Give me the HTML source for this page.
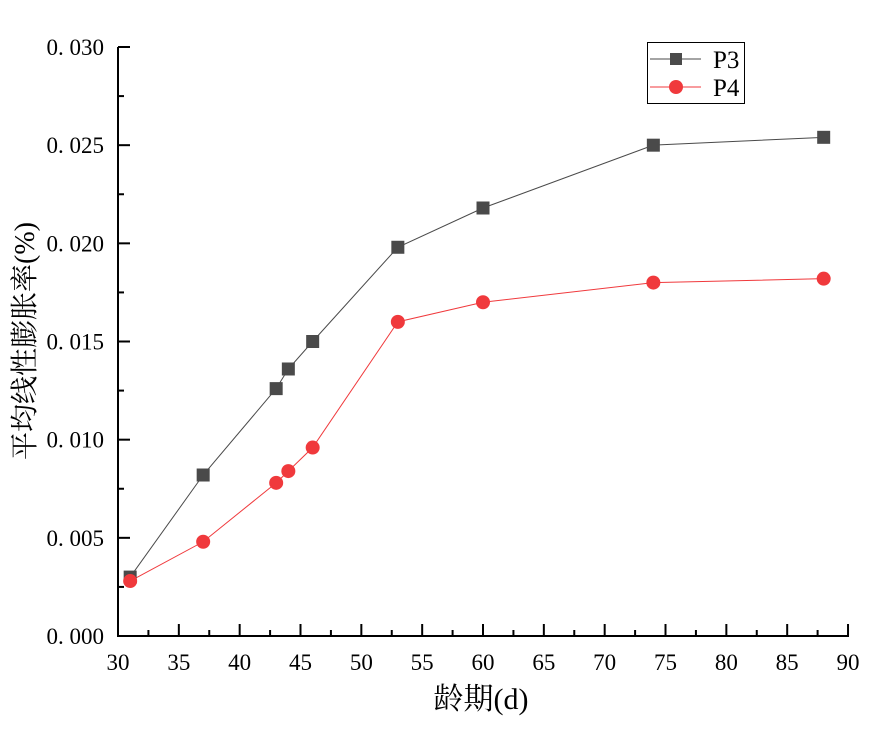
<!DOCTYPE html>
<html><head><meta charset="utf-8"><style>
html,body{margin:0;padding:0;background:#fff;}
svg text{font-family:"Liberation Serif","Noto Serif CJK SC",serif;fill:#000;}
</style></head><body>
<svg width="870" height="729" viewBox="0 0 870 729" xmlns="http://www.w3.org/2000/svg">
<g stroke="#000" stroke-width="2" fill="none">
<line x1="118" y1="47" x2="118" y2="637"/>
<line x1="117" y1="636" x2="849" y2="636"/>
</g>
<g stroke="#000" stroke-width="2" id="ticks"></g>
<g font-size="23" text-anchor="end" id="ylab"></g>
<g font-size="23" text-anchor="middle" id="xlab"></g>
<text x="0" y="0" font-size="28" text-anchor="middle" transform="translate(34,341) rotate(-90)" fill="#000">平均线性膨胀率(%)</text>
<text x="481" y="709" font-size="30" text-anchor="middle">龄期(d)</text>
<g id="series"></g>
<rect x="647.5" y="42.5" width="97" height="61" fill="#fff" stroke="#000" stroke-width="1"/>
<line x1="650" y1="59" x2="701" y2="59" stroke="#4a4a4a" stroke-width="1"/>
<rect x="670" y="53" width="12" height="12" fill="#4a4a4a"/>
<text x="713" y="68" font-size="25">P3</text>
<line x1="650" y1="87" x2="701" y2="87" stroke="#f0393c" stroke-width="1"/>
<circle cx="676" cy="87" r="7" fill="#f0393c"/>
<text x="713" y="96" font-size="25">P4</text>
<script>
var ns="http://www.w3.org/2000/svg";
function el(t,a,p){var e=document.createElementNS(ns,t);for(var k in a)e.setAttribute(k,a[k]);document.getElementById(p).appendChild(e);return e;}
function X(v){return 118+(v-30)*12.167;}
function Y(v){return 636-v*19633;}
for(var i=0;i<=12;i++){var v=30+i*5,x=X(v);if(i>0)el("line",{x1:x,y1:636,x2:x,y2:624},"ticks");
 var t=el("text",{x:x,y:670},"xlab");t.textContent=v;
 if(i<12){var xm=X(v+2.5);el("line",{x1:xm,y1:636,x2:xm,y2:630},"ticks");}}
for(var j=0;j<=6;j++){var yv=j*0.005,y=Y(yv);if(j>0)el("line",{x1:118,y1:y,x2:130,y2:y},"ticks");
 var t2=el("text",{x:104,y:y+8},"ylab");t2.textContent="0. "+("00"+(j*5)).slice(-3);
 if(j<6){var ym=Y(yv+0.0025);el("line",{x1:118,y1:ym,x2:124,y2:ym},"ticks");}}
var xs=[31,37,43,44,46,53,60,74,88];
var p3=[0.0030,0.0082,0.0126,0.0136,0.0150,0.0198,0.0218,0.0250,0.0254];
var p4=[0.0028,0.0048,0.0078,0.0084,0.0096,0.0160,0.0170,0.0180,0.0182];
function pts(a){return xs.map(function(x,i){return X(x)+","+Y(a[i]);}).join(" ");}
el("polyline",{points:pts(p3),fill:"none",stroke:"#4a4a4a","stroke-width":1},"series");
el("polyline",{points:pts(p4),fill:"none",stroke:"#f0393c","stroke-width":1},"series");
xs.forEach(function(x,i){el("rect",{x:X(x)-6.5,y:Y(p3[i])-6.5,width:13,height:13,fill:"#4a4a4a"},"series");});
xs.forEach(function(x,i){el("circle",{cx:X(x),cy:Y(p4[i]),r:7,fill:"#f0393c"},"series");});
</script>
</svg>
</body></html>
